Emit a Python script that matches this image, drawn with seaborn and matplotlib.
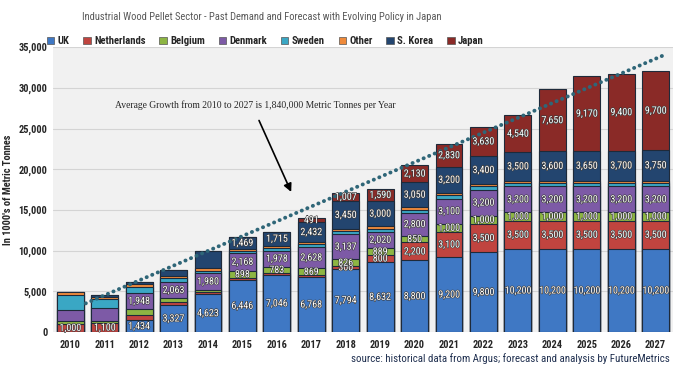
import numpy as np
import matplotlib
matplotlib.use('Agg')
import matplotlib.pyplot as plt
import matplotlib.patheffects as pe
from matplotlib.patches import Patch
from matplotlib import font_manager
import seaborn as sns

# --- Data (1000's of metric tonnes) ---
years = [str(y) for y in range(2010, 2028)]
uk          = [0, 0, 1434, 3327, 4623, 6446, 7046, 6768, 7794, 8632, 8800, 9200, 9800, 10200, 10200, 10200, 10200, 10200]
netherlands = [1000, 1100, 700, 400, 300, 200, 200, 200, 300, 800, 2200, 3100, 3500, 3500, 3500, 3500, 3500, 3500]
belgium     = [300, 300, 700, 400, 300, 898, 783, 869, 826, 889, 850, 1000, 1000, 1000, 1000, 1000, 1000, 1000]
denmark     = [1400, 1500, 1948, 2063, 1980, 2168, 1978, 2628, 3137, 2020, 2800, 3100, 3200, 3200, 3200, 3200, 3200, 3200]
sweden      = [1800, 1100, 700, 400, 300, 200, 300, 300, 300, 300, 400, 400, 400, 400, 400, 400, 400, 400]
other       = [400, 300, 400, 300, 400, 300, 300, 300, 300, 400, 300, 300, 300, 300, 300, 300, 300, 300]
korea       = [0, 300, 300, 700, 2100, 1469, 1715, 2432, 3450, 3000, 3050, 3200, 3400, 3500, 3600, 3650, 3700, 3750]
japan       = [0, 0, 0, 0, 0, 0, 0, 491, 1007, 1590, 2130, 2830, 3630, 4540, 7650, 9170, 9400, 9700]

series_names = ['UK', 'Netherlands', 'Belgium', 'Denmark', 'Sweden', 'Other', 'S. Korea', 'Japan']
series = [uk, netherlands, belgium, denmark, sweden, other, korea, japan]
colors = ['#3f78c4', '#c0443f', '#8db543', '#7d5aa6', '#3aa7c4', '#ef8a3a', '#23456f', '#8a2a27']

# which segments carry a value label
label_years = {
    'UK': range(2, 18),
    'Netherlands': [0, 1] + list(range(8, 18)),
    'Belgium': range(5, 18),
    'Denmark': range(2, 18),
    'S. Korea': range(5, 18),
    'Japan': range(7, 18),
}

annotation = 'Average Growth from 2010 to 2027 is 1,840,000 Metric Tonnes per Year'
title = 'Industrial Wood Pellet Sector - Past Demand and Forecast with Evolving Policy in Japan'
source = 'source: historical data from Argus; forecast and analysis by FutureMetrics'

# --- Plot ---
sns.set_style('white')
installed = {f.name for f in font_manager.fontManager.ttflist}
font = next((f for f in ['Roboto Condensed', 'Liberation Sans Narrow', 'Open Sans Condensed', 'Lato']
             if f in installed), 'DejaVu Sans')
plt.rcParams['font.family'] = [font, 'DejaVu Sans']

fig = plt.figure(figsize=(6.88, 3.71), dpi=100)
fig.patch.set_facecolor('white')
ax = fig.add_axes([0.077, 0.105, 0.901, 0.768])
ax.set_facecolor('#f1f1f1')
renderer = fig.canvas.get_renderer()


def fit_width(artist, target_px, start):
    # shrink font so the rendered text has the reference width
    artist.set_fontsize(start)
    w = artist.get_window_extent(renderer).width
    artist.set_fontsize(min(start * target_px / w, start))
    return artist


cum = np.cumsum(np.array(series), axis=0)
# draw cumulative totals from top down so they stack
for i in range(len(series) - 1, -1, -1):
    sns.barplot(x=years, y=cum[i], color=colors[i], width=0.78, saturation=1,
                edgecolor='#1e2a3a', linewidth=0.8, ax=ax, zorder=2)

# value labels
lab_size = 8
probe = ax.text(0, 0, '10,200', fontsize=lab_size)
lab_size = min(lab_size, lab_size * 27 / probe.get_window_extent(renderer).width)
probe.remove()
for i, name in enumerate(series_names):
    if name not in label_years:
        continue
    bottoms = cum[i] - np.array(series[i])
    for j in label_years[name]:
        v = series[i][j]
        if v <= 0:
            continue
        ax.text(j, bottoms[j] + v / 2, f'{v:,}', ha='center', va='center',
                color='white', fontsize=lab_size, zorder=5,
                path_effects=[pe.withStroke(linewidth=0.9, foreground='#3a3a3a')])

# linear trend line of totals
totals = cum[-1]
xs = np.arange(len(years))
slope, intercept = np.polyfit(xs, totals, 1)
tx = np.array([0.45, 17.2])
ax.plot(tx, intercept + slope * tx, linestyle=(0, (0.05, 1.5)), linewidth=2.8,
        color='#2f6678', dash_capstyle='round', solid_capstyle='round', zorder=4)

ax.annotate('', xy=(6.45, 16900), xytext=(5.45, 26300),
            arrowprops=dict(arrowstyle='-|>', color='black', lw=1.2, mutation_scale=12), zorder=6)
ann = ax.text(1.3, 27900, annotation, family='Liberation Serif', va='center', ha='left')
fit_width(ann, 280, 8)

ax.set_ylim(0, 35000)
ax.set_xlim(-0.5, 17.5)
ax.set_yticks(range(0, 35001, 5000))
ax.set_yticklabels([f'{v:,}' for v in range(0, 35001, 5000)])
ax.yaxis.grid(True, color='#d4d4d4', linewidth=0.8, zorder=0)
ax.set_axisbelow(True)
ax.tick_params(axis='both', labelsize=7.5, length=0)
ax.tick_params(axis='x', pad=6)
ax.tick_params(axis='y', pad=4)
for lab in ax.get_xticklabels() + ax.get_yticklabels():
    lab.set_fontweight('bold')
ax.set_xlabel('')
ax.set_ylabel("In 1000's of Metric Tonnes", fontsize=7.5, fontweight='bold', labelpad=4)
for sp in ax.spines.values():
    sp.set_visible(False)

handles = [Patch(facecolor=c, edgecolor='#555555', linewidth=0.5) for c in colors]
leg_size = 9.0
for _ in range(3):
    leg = fig.legend(handles, series_names, ncol=8, loc='center left', bbox_to_anchor=(0.068, 0.889),
                     frameon=False, handlelength=0.7, handleheight=0.7,
                     handletextpad=0.3, columnspacing=1.3, borderaxespad=0, borderpad=0,
                     prop={'weight': 'bold', 'size': leg_size})
    w = leg.get_window_extent(renderer).width
    if abs(w - 440) < 4:
        break
    leg.remove()
    leg_size *= 440 / w

t = fig.text(0.381, 0.955, title, ha='center', va='center', color='#595959')
fit_width(t, 360, 10)
s = fig.text(0.974, 0.033, source, ha='right', va='center', color='#1f2f4f')
fit_width(s, 315, 8.5)

fig.savefig('out.png', dpi=100)
